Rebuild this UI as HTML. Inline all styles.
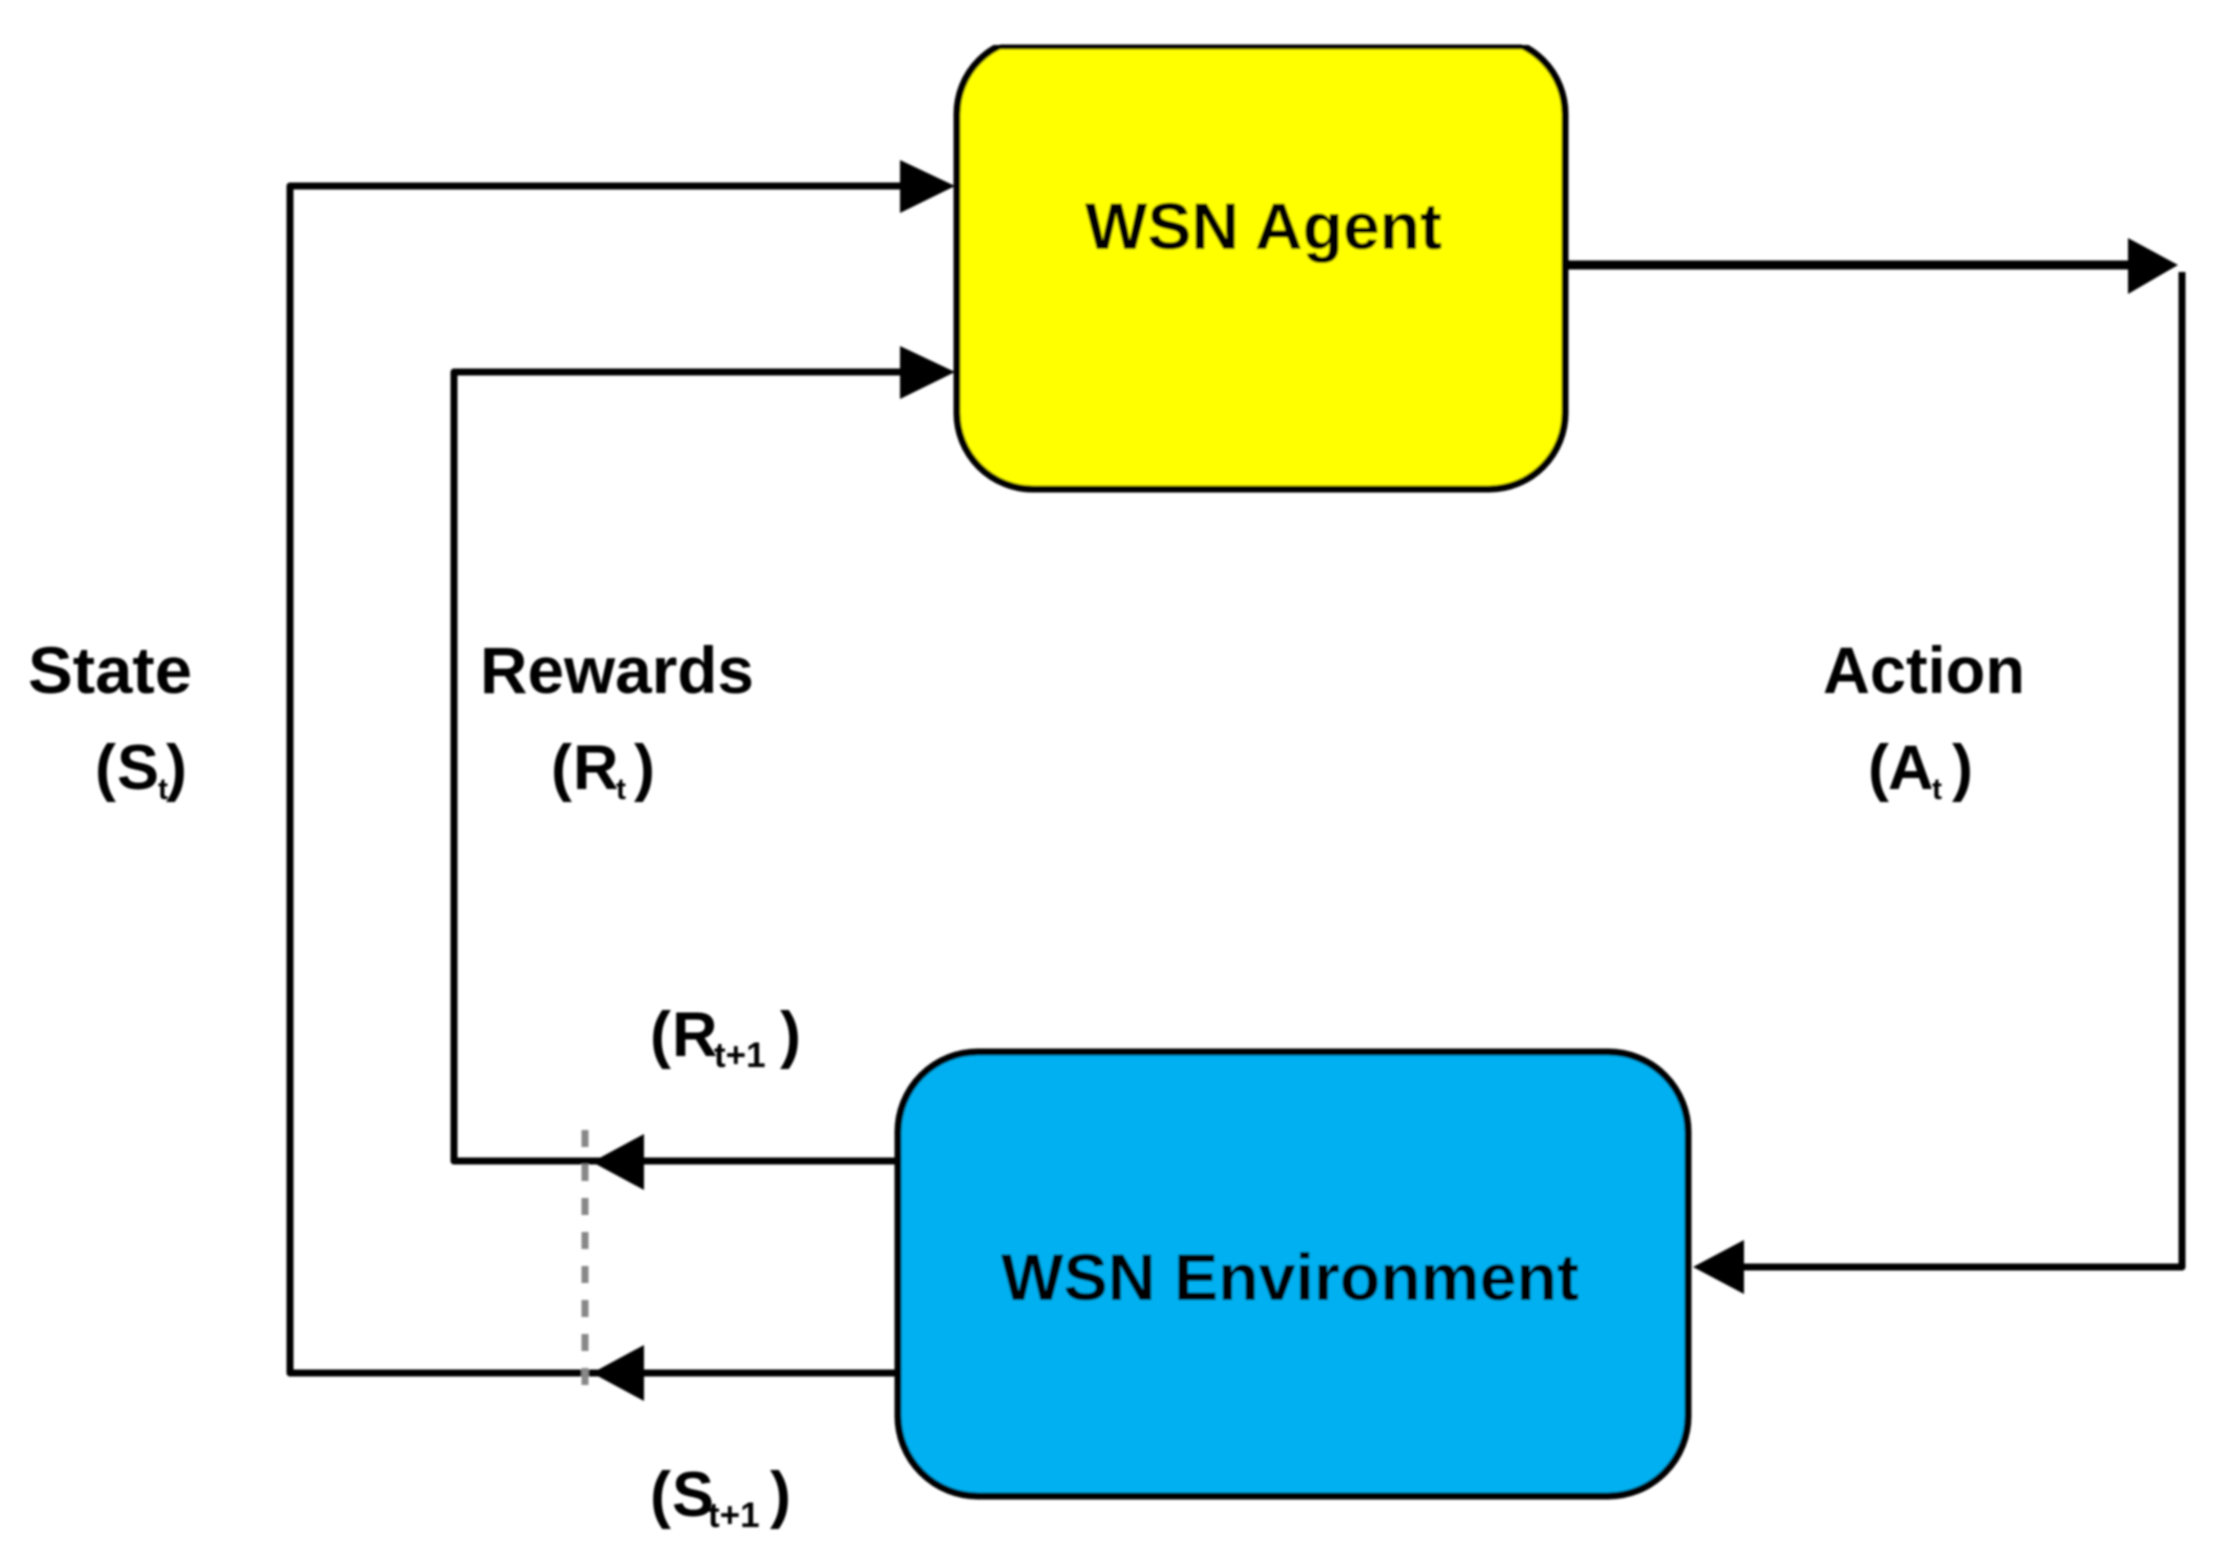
<!DOCTYPE html>
<html><head><meta charset="utf-8"><style>html,body{margin:0;padding:0;background:#fff}svg{display:block}text{font-family:"Liberation Sans",sans-serif;font-weight:bold;fill:#000}</style></head>
<body>
<svg width="2221" height="1561" viewBox="0 0 2221 1561" xmlns="http://www.w3.org/2000/svg">
<defs>
<clipPath id="c"><rect x="0" y="45" width="2221" height="1516"/></clipPath>
<filter id="b"><feGaussianBlur stdDeviation="1.1"/></filter>
</defs>
<rect width="2221" height="1561" fill="#fff"/>
<g filter="url(#b)">
<!-- connectors -->
<g fill="none" stroke="#000" stroke-width="7" stroke-linejoin="round">
<path d="M910 186H290V1373H900"/>
<path d="M910 372H454V1161H900"/>
<path d="M1566 265H2130" stroke-width="9"/>
<path d="M2182 272V1267H1735"/>
</g>
<path d="M585 1130V1402" stroke="#888" stroke-width="7" stroke-dasharray="17 17" fill="none"/>
<!-- boxes -->
<rect x="957" y="38" width="608" height="451" rx="76" ry="76" fill="#ffff00" stroke="#000" stroke-width="7" clip-path="url(#c)"/>
<path d="M1000 47H1522" stroke="#000" stroke-width="5"/>
<rect x="898" y="1052" width="790" height="444" rx="80" ry="80" fill="#00b0f0" stroke="#000" stroke-width="7"/>
<!-- arrowheads -->
<polygon points="900,160 955,186 900,213" fill="#000"/>
<polygon points="900,346 955,372 900,399" fill="#000"/>
<polygon points="2128,238 2178,265 2128,294" fill="#000"/>
<polygon points="1693,1267 1744,1240 1744,1294" fill="#000"/>
<polygon points="592,1162 644,1134 644,1190" fill="#000"/>
<polygon points="592,1373 644,1345 644,1401" fill="#000"/>
<!-- labels -->
<text x="1085" y="249" font-size="66" textLength="357" lengthAdjust="spacingAndGlyphs">WSN Agent</text>
<text x="1001" y="1300" font-size="66" textLength="578" lengthAdjust="spacingAndGlyphs">WSN Environment</text>
<text x="28" y="693" font-size="66" textLength="164" lengthAdjust="spacingAndGlyphs">State</text>
<text x="480" y="693" font-size="66" textLength="274" lengthAdjust="spacingAndGlyphs">Rewards</text>
<text x="1823" y="693" font-size="66" textLength="202" lengthAdjust="spacingAndGlyphs">Action</text>
<text y="789" font-size="63"><tspan x="95">(</tspan><tspan x="117">S</tspan><tspan x="158" y="799" font-size="30">t</tspan><tspan x="166" y="789">)</tspan></text>
<text y="789" font-size="63"><tspan x="551">(</tspan><tspan x="573">R</tspan><tspan x="616" y="799" font-size="30">t</tspan><tspan x="634" y="789">)</tspan></text>
<text y="789" font-size="63"><tspan x="1868">(</tspan><tspan x="1888">A</tspan><tspan x="1932" y="799" font-size="30">t</tspan><tspan x="1952" y="789">)</tspan></text>
<text y="1056" font-size="63"><tspan x="650">(</tspan><tspan x="672">R</tspan><tspan x="714" y="1067" font-size="35">t+1</tspan><tspan x="780" y="1056">)</tspan></text>
<text y="1516" font-size="63"><tspan x="650">(</tspan><tspan x="672">S</tspan><tspan x="708" y="1527" font-size="35">t+1</tspan><tspan x="770" y="1516">)</tspan></text>
</g>
</svg>
</body></html>
